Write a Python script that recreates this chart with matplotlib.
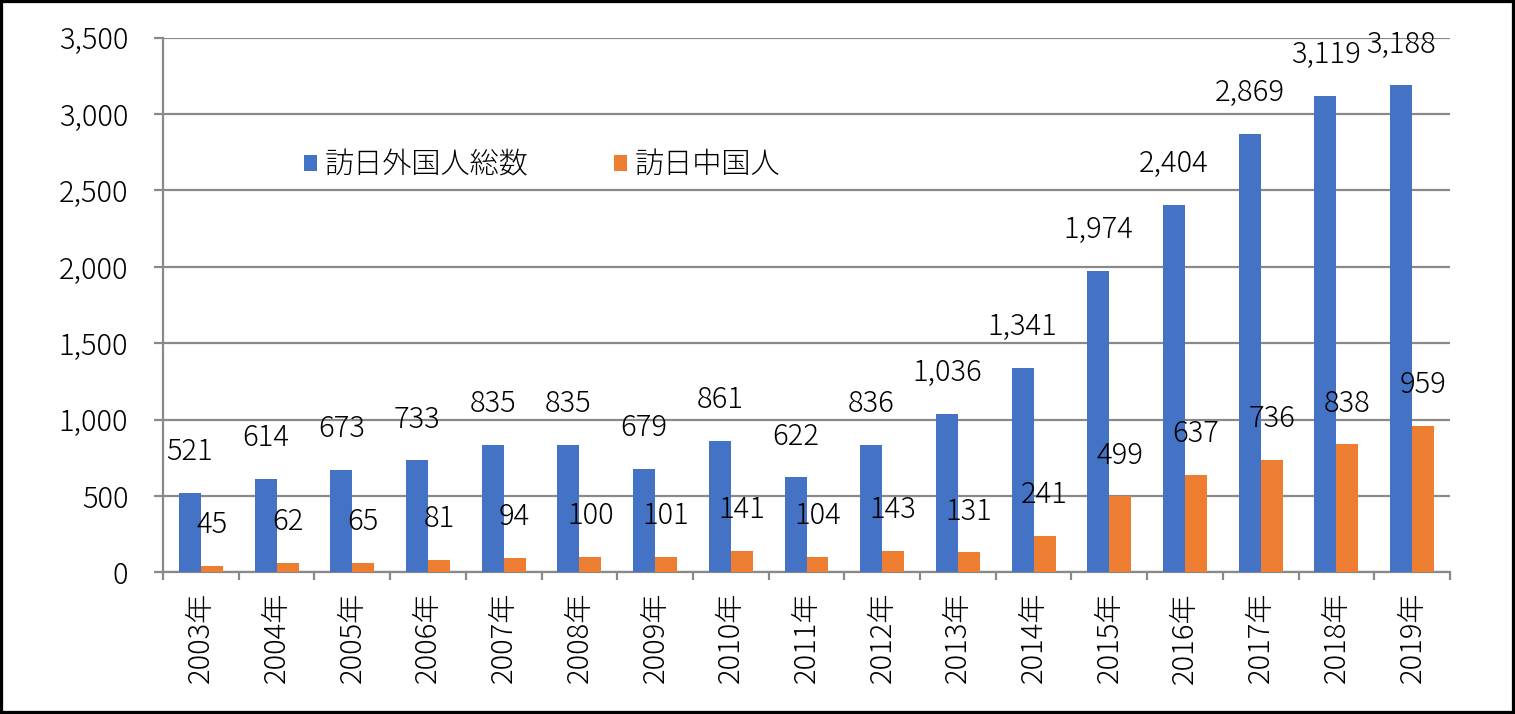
import matplotlib
matplotlib.use('Agg')
import matplotlib.pyplot as plt
from matplotlib.patches import Rectangle
import numpy as np

plt.rcParams['font.family'] = ['Noto Sans CJK JP', 'DejaVu Sans']
plt.rcParams['font.weight'] = 'light'

years = ['2003年', '2004年', '2005年', '2006年', '2007年', '2008年', '2009年',
         '2010年', '2011年', '2012年', '2013年', '2014年', '2015年', '2016年',
         '2017年', '2018年', '2019年']
total = [521, 614, 673, 733, 835, 835, 679, 861, 622, 836, 1036, 1341,
         1974, 2404, 2869, 3119, 3188]
china = [45, 62, 65, 81, 94, 100, 101, 141, 104, 143, 131, 241,
         499, 637, 736, 838, 959]
series_names = ['訪日外国人総数', '訪日中国人']

blue = '#4472C4'
orange = '#ED7D31'
grid_col = '#898989'
fs = 21

fig = plt.figure(figsize=(15.15, 7.14), dpi=100)
ax = fig.add_axes([0.1076, 0.1982, 0.8495, 0.749])

x = np.arange(len(years))
w = 0.29
b1 = ax.bar(x - w / 2, total, w, color=blue, label=series_names[0], zorder=3)
b2 = ax.bar(x + w / 2, china, w, color=orange, label=series_names[1], zorder=3)

for bars, vals in [(b1, total), (b2, china)]:
    for r, v in zip(bars, vals):
        ax.annotate(f'{v:,}', (r.get_x() + r.get_width() / 2, v),
                    xytext=(0, 29.5), textcoords='offset points',
                    ha='center', va='center', fontsize=fs, color='black', zorder=4)

ax.set_xlim(-0.5, len(years) - 0.5)
ax.set_ylim(0, 3500)
ax.set_yticks(np.arange(0, 3501, 500))
ax.set_yticklabels([f'{v:,}' for v in range(0, 3501, 500)])
ax.yaxis.grid(True, color=grid_col, linewidth=1.6, zorder=0)
ax.set_axisbelow(True)

ax.set_xticks(x)
ax.set_xticklabels(years, rotation=90)
ax.set_xticks(np.arange(-0.5, len(years)), minor=True)
ax.tick_params(axis='x', which='major', length=0, pad=14, labelsize=fs)
ax.tick_params(axis='x', which='minor', length=6, width=1.6, color=grid_col)
ax.tick_params(axis='y', length=6.5, width=1.6, color=grid_col, pad=18.5, labelsize=fs)

for s in ['top', 'right']:
    ax.spines[s].set_visible(False)
for s in ['left', 'bottom']:
    ax.spines[s].set_color(grid_col)
    ax.spines[s].set_linewidth(1.6)

ax.legend(loc='center', bbox_to_anchor=(0.2945, 0.762), ncol=2, frameon=False,
          fontsize=fs, handlelength=0.45, handleheight=0.45, handletextpad=0.25,
          columnspacing=2.95)

fig.patches.append(Rectangle((0, 0), 1, 1, transform=fig.transFigure,
                             fill=False, edgecolor='black', linewidth=4.5))

fig.savefig('out.png', dpi=100)
